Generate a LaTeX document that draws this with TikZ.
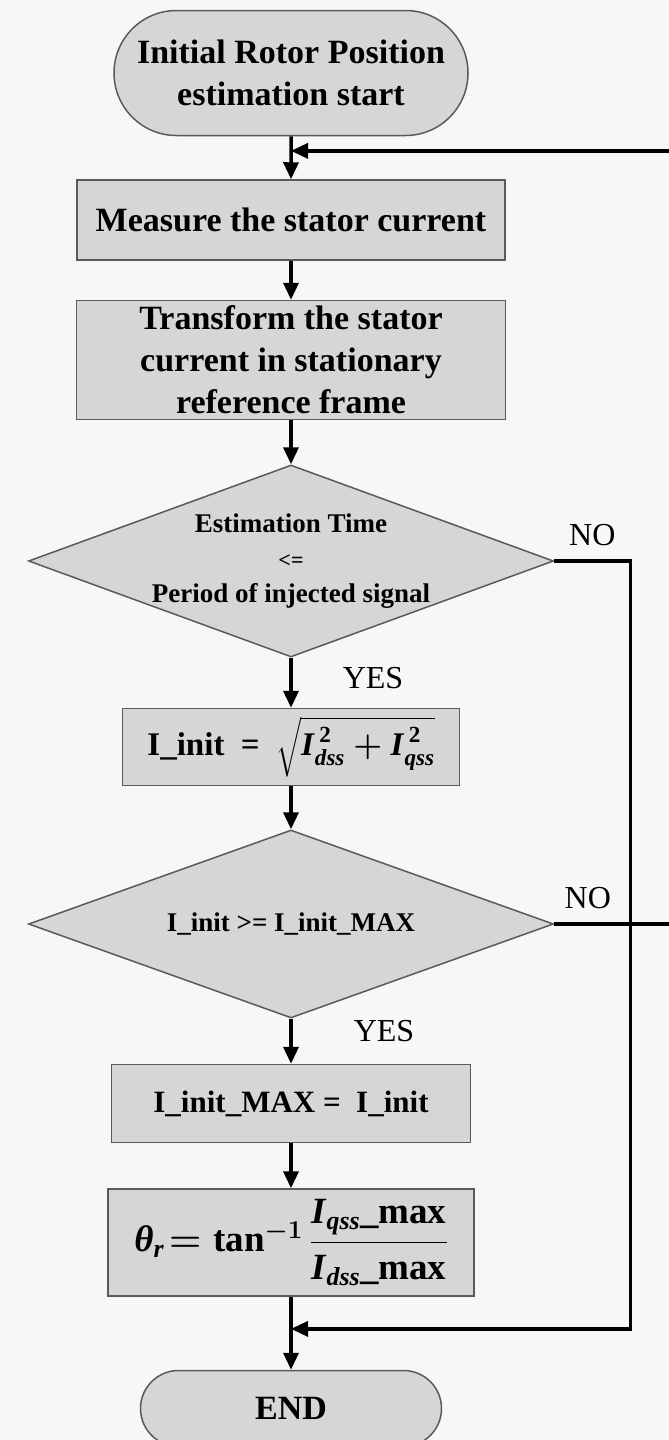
\RequirePackage{fix-cm}
\documentclass[tikz,border=0pt]{standalone}
\usepackage{amsmath}
\usepackage{fontspec}
\setmainfont{Liberation Serif}
\usetikzlibrary{positioning, calc, arrows.meta, shapes.geometric, shapes.misc}

\definecolor{boxgray}{RGB}{214,214,214}
\definecolor{paper}{RGB}{247,247,247}
\definecolor{edgegray}{RGB}{90,90,90}

\newcommand{\mtx}[1]{\text{\textit{#1}}}

\begin{document}
\begin{tikzpicture}
    [x=1pt, y=-1pt,
    termnode/.style={rounded rectangle, draw=edgegray, line width=1.5pt, fill=boxgray, font=\fontsize{34}{42}\selectfont\bfseries, align=center, inner sep=0pt},
    procnode/.style={rectangle, draw=edgegray, line width=1.5pt, fill=boxgray, font=\fontsize{34}{42}\selectfont\bfseries, align=center, inner sep=0pt},
    decnode/.style={diamond, draw=edgegray, line width=1.5pt, fill=boxgray, inner sep=0pt, minimum width=525pt},
    dectext/.style={font=\fontsize{27}{35}\selectfont\bfseries, align=center},
    answer/.style={font=\fontsize{32}{36}\selectfont, inner sep=0pt},
    flow/.style={line width=3.5pt, -{Triangle[length=17pt, width=15pt]}}]

    %Frame
    \useasboundingbox[fill=paper] (0,0) rectangle (669,1440);
    \clip (0,0) rectangle (669,1440);

    %Nodes
    \node[termnode, minimum width=354pt, minimum height=125pt](start) at (291,73){Initial Rotor Position\\estimation start};
    \node[procnode, minimum width=428pt, minimum height=80pt](measure)[below=43pt of start]{Measure the stator current};
    \node[procnode, minimum width=429pt, minimum height=119pt](transform)[below=39pt of measure]{Transform the stator\\current in stationary\\reference frame};
    \node[decnode, minimum height=192pt, label={[dectext]center:{Estimation Time\\{\fontsize{22}{30}\selectfont<=}\\Period of injected signal}}](timecheck)[below=44pt of transform]{};
    \node[procnode, font=\fontsize{33}{38}\selectfont\bfseries, minimum width=337pt, minimum height=77pt](initcalc)[below=50pt of timecheck]{{\boldmath I\_init \ = \ $\sqrt{\mtx{I}^{\,\text{2}}_{\mtx{dss}}+\mtx{I}^{\,\text{2}}_{\mtx{qss}}}$}};
    \node[decnode, minimum height=188pt, label={[dectext]center:{I\_init >= I\_init\_MAX}}](maxcheck)[below=43pt of initcalc]{};
    \node[procnode, font=\fontsize{31}{36}\selectfont\bfseries, minimum width=359pt, minimum height=78pt](maxupdate)[below=45pt of maxcheck]{I\_init\_MAX = \ I\_init};
    \node[procnode, font=\fontsize{37}{42}\selectfont\bfseries, minimum width=366pt, minimum height=107pt](angle)[below=45pt of maxupdate]{{\boldmath$\mtx{θ}_{\mtx{r}}\!=\text{tan}^{-1}\,\dfrac{\mtx{I}_{\mtx{qss}}\text{\_max}}{\mtx{I}_{\mtx{dss}}\text{\_max}}$}};
    \node[termnode, minimum width=301pt, minimum height=76pt](finish)[below=73pt of angle]{END};

    %Joins
    \coordinate (loopin) at ($(start.south)!0.34!(measure.north)$);
    \coordinate (loopout) at ($(angle.south)!0.44!(finish.north)$);

    %Lines
    \draw[flow](start)--(measure);
    \draw[flow](measure)--(transform);
    \draw[flow](transform)--(timecheck);
    \draw[flow](timecheck)--node[answer, pos=0.41, right=50pt]{YES}(initcalc);
    \draw[flow](initcalc)--(maxcheck);
    \draw[flow](maxcheck)--node[answer, pos=0.28, right=61pt]{YES}(maxupdate);
    \draw[flow](maxupdate)--(angle);
    \draw[flow](angle)--(finish);

    %Loops
    \draw[flow](timecheck.east)--node[answer, above=13pt]{NO}++(76,0)|-(loopout);
    \draw[flow](maxcheck.east)--node[answer, pos=0.24, above=13pt]{NO}++(140,0)|-(loopin);

\end{tikzpicture}
\end{document}
